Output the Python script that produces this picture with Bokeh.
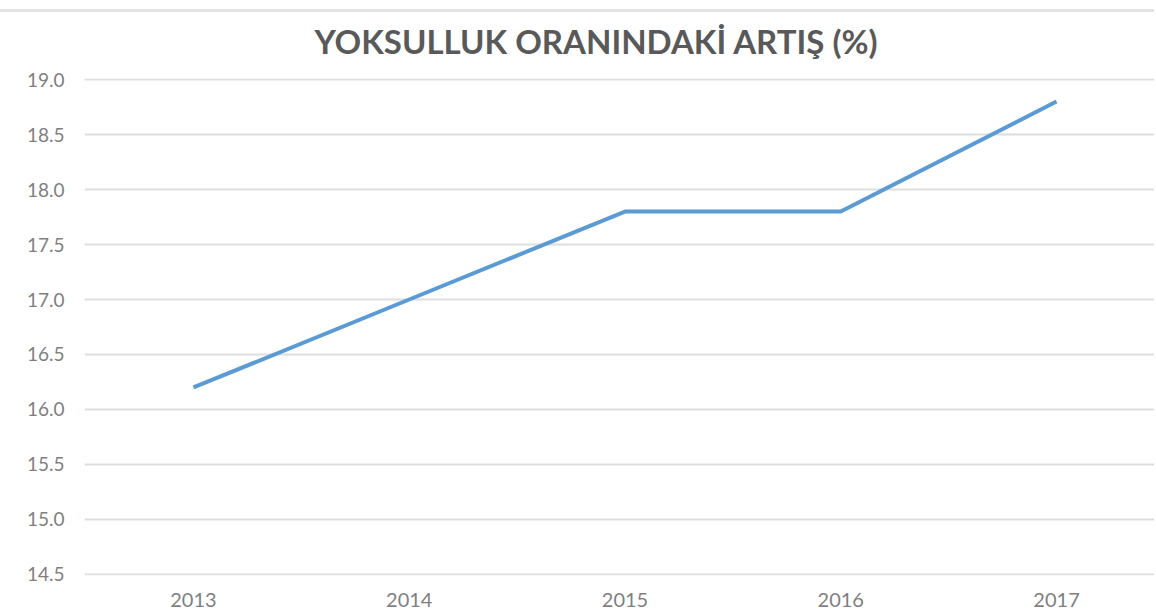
from bokeh.plotting import figure
from bokeh.models import Range1d, SingleIntervalTicker, NumeralTickFormatter, FixedTicker
from bokeh.embed import file_html
from bokeh.resources import INLINE

years = ["2013", "2014", "2015", "2016", "2017"]
rates = [16.2, 17.0, 17.8, 17.8, 18.8]
title_text = "YOKSULLUK ORANINDAKİ ARTIŞ (%)"

xpos = list(range(len(years)))

W, H = 1154, 611
p = figure(width=W, height=H, x_range=Range1d(-0.505, 4.454), y_range=Range1d(14.49, 19.01),
           output_backend="svg", toolbar_location=None, title=title_text,
           min_border_left=84, min_border_right=0, min_border_top=76, min_border_bottom=36)
p.outline_line_color = None
p.background_fill_color = "white"
p.border_fill_color = None
p.styles = {"background": "linear-gradient(to bottom, #ffffff 0px, #ffffff 9px, #e3e3e3 9px, "
                          "#e3e3e3 12px, #ffffff 12px, #ffffff 100%)"}

p.title.align = "left"
p.title.offset = 230
p.title.standoff = 36
p.title.text_font = "Lato"
p.title.text_font_style = "bold"
p.title.text_font_size = "33px"
p.title.text_color = "#595959"

p.line(xpos, rates, line_color="#5B9BD5", line_width=4, line_join="round")

p.xaxis.ticker = FixedTicker(ticks=xpos)
p.xaxis.major_label_overrides = {i: y for i, y in zip(xpos, years)}
p.yaxis.ticker = SingleIntervalTicker(interval=0.5)
p.yaxis.formatter = NumeralTickFormatter(format="0.0")
for ax in (p.xaxis[0], p.yaxis[0]):
    ax.axis_line_color = None
    ax.major_tick_line_color = None
    ax.minor_tick_line_color = None
    ax.major_label_text_color = "#7f7f7f"
    ax.major_label_text_font = "Lato"
    ax.major_label_text_font_size = "19px"
p.xaxis.major_label_text_font_size = "20px"
p.yaxis.major_label_standoff = 14
p.xaxis.major_label_standoff = 11

p.xgrid.grid_line_color = None
p.ygrid.grid_line_color = "#dedede"
p.ygrid.grid_line_width = 2

open("out.html", "w").write(file_html(p, INLINE))
